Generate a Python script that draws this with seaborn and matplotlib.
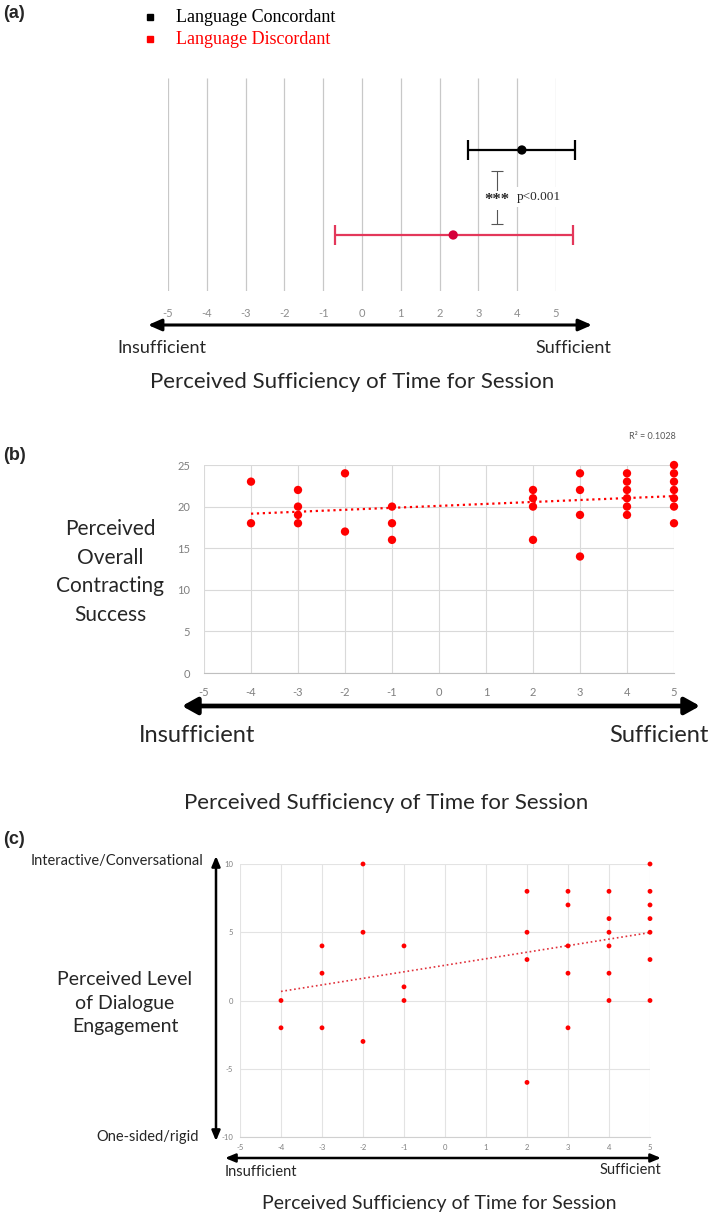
import numpy as np
import pandas as pd
import seaborn as sns
import matplotlib.pyplot as plt
from matplotlib.patches import FancyArrowPatch

# ---- data ----
# (a) mean and interval of perceived sufficiency per group
groups = ["Language Concordant", "Language Discordant"]
group_mean = [4.12, 2.35]
group_low = [2.73, -0.70]
group_high = [5.49, 5.44]
a_ticks = [-5, -4, -3, -2, -1, 0, 1, 2, 3, 4, 5]

# (b) time sufficiency vs overall contracting success
b_x = [-4, -4, -3, -3, -3, -3, -2, -2, -1, -1, -1,
       2, 2, 2, 2, 3, 3, 3, 3, 4, 4, 4, 4, 4, 4,
       5, 5, 5, 5, 5, 5, 5]
b_y = [23, 18, 22, 20, 19, 18, 24, 17, 20, 18, 16,
       22, 21, 20, 16, 24, 22, 19, 14, 24, 23, 22, 21, 20, 19,
       25, 24, 23, 22, 21, 20, 18]
b_r2 = "R\u00b2 = 0.1028"

# (c) time sufficiency vs dialogue engagement
c_x = [-4, -4, -3, -3, -3, -2, -2, -2, -1, -1, -1,
       2, 2, 2, 2, 3, 3, 3, 3, 3, 4, 4, 4, 4, 4, 4,
       5, 5, 5, 5, 5, 5, 5]
c_y = [0, -2, 4, 2, -2, 10, 5, -3, 4, 1, 0,
       8, 5, 3, -6, 8, 7, 4, 2, -2, 8, 6, 5, 4, 2, 0,
       10, 8, 7, 6, 5, 3, 0]

sns.set_style("white")
plt.rcParams["font.family"] = ["Lato", "DejaVu Sans"]
plt.rcParams["axes.unicode_minus"] = False

W, H = 709, 1215
fig = plt.figure(figsize=(W / 100, H / 100), dpi=100)


def box(l, t, r, b):
    return [l / W, 1 - b / H, (r - l) / W, (b - t) / H]


def P(x, y):
    return (x / W, 1 - y / H)


def txt(x, y, s, **kw):
    fig.text(x / W, 1 - y / H, s, va=kw.pop("va", "center"), **kw)


def arrow(x1, y1, x2, y2, lw, hl, hw):
    fig.add_artist(FancyArrowPatch(
        P(x1, y1), P(x2, y2), transform=fig.transFigure,
        arrowstyle=f"<|-|>,head_length={hl},head_width={hw}",
        mutation_scale=1, lw=lw, color="black", shrinkA=0, shrinkB=0))


serif = ["Liberation Serif", "DejaVu Serif"]
gray = "#7f7f7f"
red_line = "#e3375a"

# ---------------- panel (a) ----------------
axa = fig.add_axes(box(168, 78, 556, 291))
axa.set_xlim(-5, 5)
axa.set_ylim(0, 1)
axa.vlines(a_ticks, 0, 1, color="#c8c8c8", lw=0.9, zorder=0)
ypos = [0.662, 0.263]
cols = ["black", red_line]
dots = ["black", "#d6003a"]
for i in range(2):
    axa.errorbar(group_mean[i], ypos[i],
                 xerr=[[group_mean[i] - group_low[i]], [group_high[i] - group_mean[i]]],
                 fmt="none", ecolor=cols[i], elinewidth=1.6, capsize=7,
                 capthick=1.6, clip_on=False, zorder=2)
sns.scatterplot(x=group_mean, y=ypos, hue=groups, palette=dots, s=45,
                edgecolor="none", legend=False, ax=axa, zorder=3, clip_on=False)
# significance bracket
axa.errorbar(3.48, 0.439, yerr=0.124, fmt="none", ecolor="#555555",
             elinewidth=0.8, capsize=4, capthick=0.8, zorder=2)
axa.text(3.48, 0.425, "***", ha="center", va="center", fontsize=12,
         family=serif, fontweight="bold",
         bbox=dict(fc="white", ec="none", pad=1), zorder=4)
axa.text(4.0, 0.441, "p<0.001", ha="left", va="center", fontsize=9.5,
         family=serif, bbox=dict(fc="white", ec="none", pad=3), zorder=4)
axa.set_xticks(a_ticks)
axa.set_xticklabels([str(t) for t in a_ticks], fontsize=8, color="#8c8c8c")
axa.tick_params(axis="x", length=0, pad=12)
axa.set_yticks([])
for s in axa.spines.values():
    s.set_visible(False)

txt(3, 14, "(a)", fontsize=13, fontweight="bold", family=["Liberation Sans"])
fig.add_artist(plt.Line2D([150 / W], [1 - 17 / H], marker="s", ms=4.5,
                          color="black", transform=fig.transFigure))
fig.add_artist(plt.Line2D([150 / W], [1 - 39 / H], marker="s", ms=4.5,
                          color="red", transform=fig.transFigure))
txt(176, 17, groups[0], fontsize=13, family=serif, color="black")
txt(176, 39, groups[1], fontsize=13, family=serif, color="red")
arrow(148, 325, 592, 325, 2.2, 8, 3.5)
txt(117, 348, "Insufficient", fontsize=13)
txt(611, 348, "Sufficient", fontsize=13, ha="right")
txt(352, 382, "Perceived Sufficiency of Time for Session", fontsize=16, ha="center")

# ---------------- panel (b) ----------------
axb = fig.add_axes(box(204, 465, 674, 673))
sns.scatterplot(x=b_x, y=b_y, color="red", s=36, edgecolor="none", ax=axb,
                zorder=3, clip_on=False)
sns.regplot(x=b_x, y=b_y, scatter=False, ci=None, ax=axb,
            line_kws=dict(color="red", ls=":", lw=1.6))
axb.set_xlim(-5, 5)
axb.set_ylim(0, 25)
axb.set_xticks(a_ticks)
axb.set_yticks([0, 5, 10, 15, 20, 25])
axb.grid(True, color="#d9d9d9", lw=0.8)
axb.tick_params(length=0, labelsize=8, labelcolor=gray, pad=10)
for s in ["top", "right", "left"]:
    axb.spines[s].set_visible(False)
axb.spines["bottom"].set_color("#bfbfbf")
axb.spines["bottom"].set_linewidth(0.8)

txt(3, 455, "(b)", fontsize=13, fontweight="bold", family=["Liberation Sans"])
txt(110, 572, "Perceived\nOverall\nContracting\nSuccess", fontsize=15,
    ha="center", linespacing=1.55)
txt(676, 437, b_r2, fontsize=6.5, color="#595959", ha="right")
arrow(182, 706, 700, 706, 3.4, 9, 5)
txt(139, 735, "Insufficient", fontsize=17)
txt(709, 735, "Sufficient", fontsize=17, ha="right")
txt(386, 803, "Perceived Sufficiency of Time for Session", fontsize=16, ha="center")

# ---------------- panel (c) ----------------
axc = fig.add_axes(box(240, 864, 650, 1137))
sns.scatterplot(x=c_x, y=c_y, color="red", s=12, edgecolor="none", ax=axc,
                zorder=3, clip_on=False)
sns.regplot(x=c_x, y=c_y, scatter=False, ci=None, ax=axc,
            line_kws=dict(color="#e0303a", ls=":", lw=1.2))
axc.set_xlim(-5, 5)
axc.set_ylim(-10, 10)
axc.set_xticks(a_ticks)
axc.set_yticks([-10, -5, 0, 5, 10])
axc.grid(True, color="#e3e3e3", lw=0.8)
axc.tick_params(length=0, labelsize=5.5, labelcolor=gray, pad=5)
for s in ["top", "right", "left"]:
    axc.spines[s].set_visible(False)
axc.spines["bottom"].set_color("#d0d0d0")
axc.spines["bottom"].set_linewidth(0.8)

txt(3, 840, "(c)", fontsize=13, fontweight="bold", family=["Liberation Sans"])
txt(203, 861, "Interactive/Conversational", fontsize=10.5, ha="right")
txt(199, 1137, "One-sided/rigid", fontsize=10.5, ha="right")
txt(125, 1003, "Perceived Level\nof Dialogue\nEngagement", fontsize=14,
    ha="center", linespacing=1.45)
arrow(216, 1141, 216, 856, 1.8, 6, 2.5)
arrow(225, 1158, 661, 1158, 1.8, 6, 2.5)
txt(225, 1172, "Insufficient", fontsize=10.5)
txt(661, 1170, "Sufficient", fontsize=10.5, ha="right")
txt(439, 1203, "Perceived Sufficiency of Time for Session", fontsize=14, ha="center")

fig.savefig("out.png", dpi=100)
